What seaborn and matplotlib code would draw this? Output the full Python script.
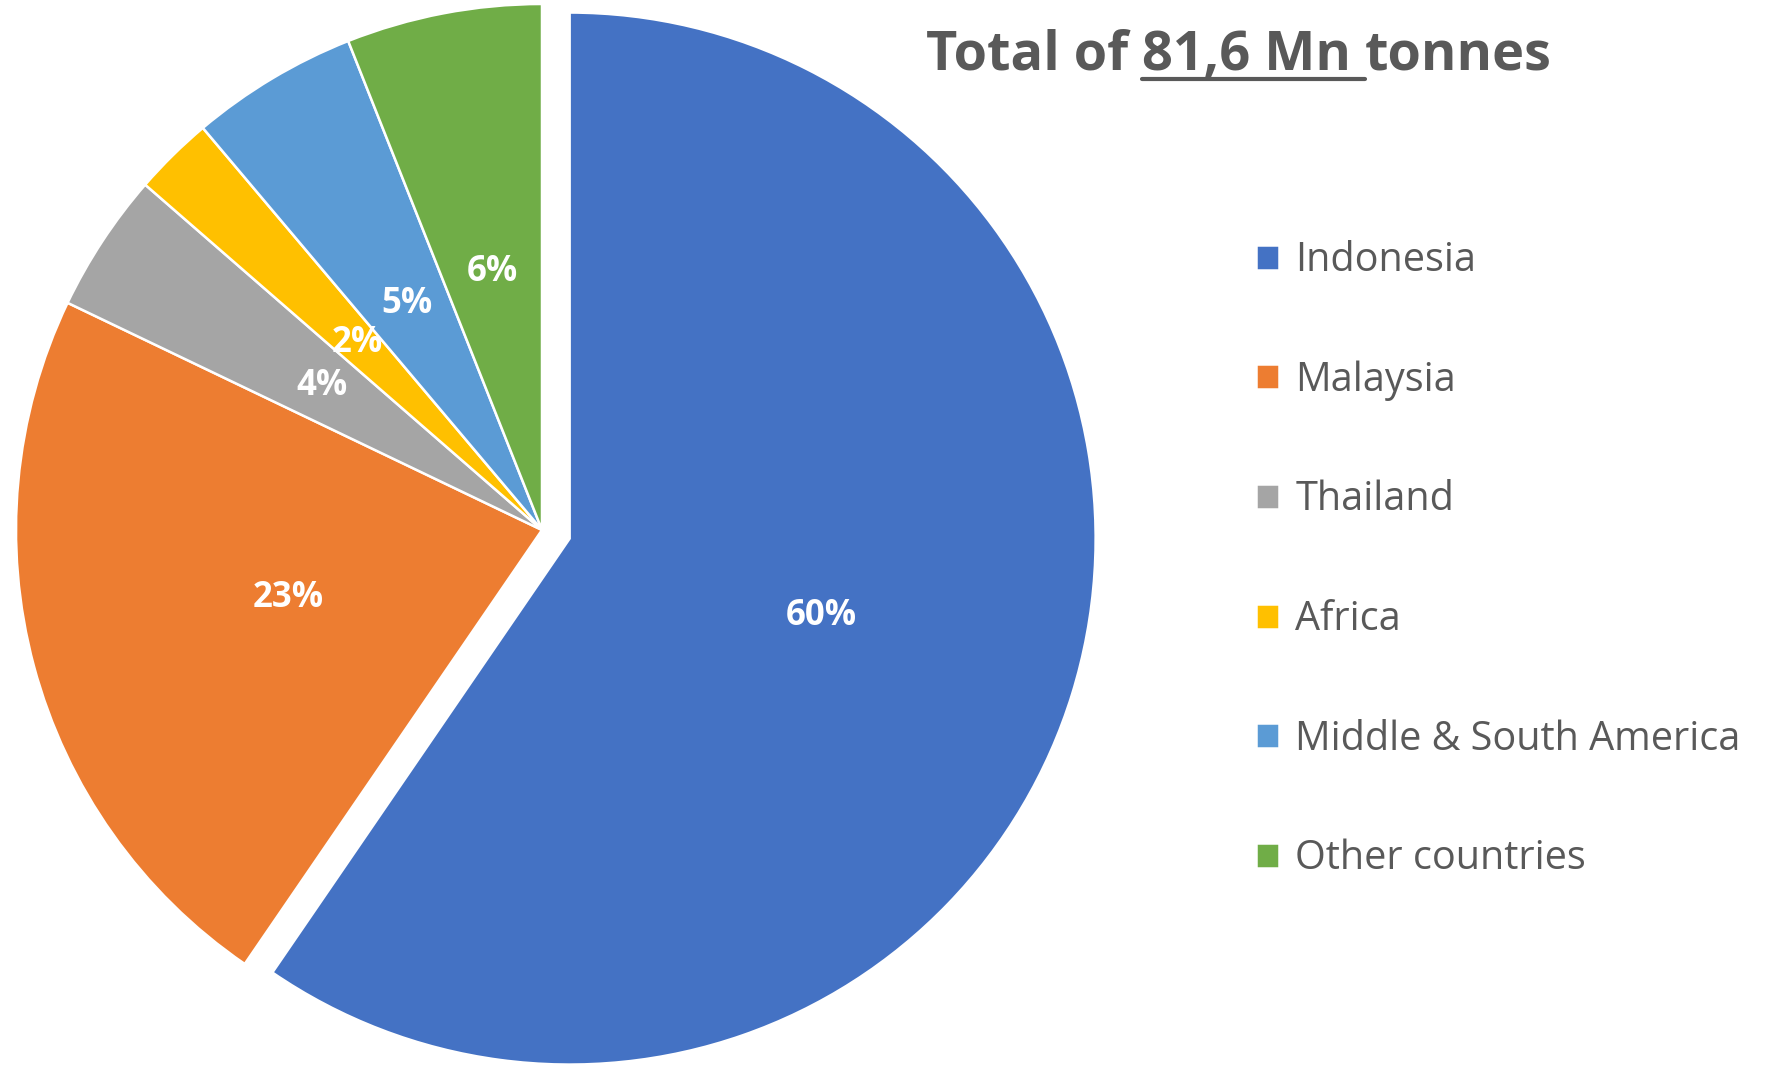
import matplotlib
matplotlib.use("Agg")
import matplotlib.pyplot as plt
import seaborn as sns
from matplotlib.lines import Line2D

# production in Mn tonnes (total 81.6)
regions = ['Indonesia', 'Malaysia', 'Thailand', 'Africa',
           'Middle & South America', 'Other countries']
production = [48.6, 18.4, 3.5, 2.0, 4.2, 4.9]
colors = ['#4472C4', '#ED7D31', '#A5A5A5', '#FFC000', '#5B9BD5', '#70AD47']
explode = [0.055, 0, 0, 0, 0, 0]

sns.set_theme(style="white")
plt.rcParams['font.family'] = ['Open Sans', 'DejaVu Sans']
grey = '#595959'

W, H = 1781, 1068
fig = plt.figure(figsize=(W / 100, H / 100), dpi=100)
ax = fig.add_axes([0, 0, 1, 1])

wedges, texts, autotexts = ax.pie(
    production, colors=sns.color_palette(colors), explode=explode,
    startangle=90, counterclock=False, autopct='%.0f%%', pctdistance=0.5,
    wedgeprops=dict(edgecolor='white', linewidth=1.8),
    textprops=dict(color='white', fontsize=25, fontweight='bold'))

# place the pie: centre at (542, 530) px, radius 526 px
r = 526
cx, cy = 542, 530
ax.set_xlim(-cx / r, (W - cx) / r)
ax.set_ylim(-(H - cy) / r, cy / r)
ax.set_aspect('equal', adjustable='box')
ax.axis('off')

# legend on the right
leg = fig.legend(wedges, regions, loc='upper left',
                 bbox_to_anchor=(1220 / W, 1 - 205 / H),
                 frameon=False, fontsize=28.5, handlelength=0.6, handleheight=0.6,
                 handletextpad=0.4, labelspacing=2.0, labelcolor=grey)

# title with the underlined middle part
base_y = 1 - 70 / H
tkw = dict(fontsize=39, fontweight='bold', color=grey, va='baseline', ha='left')
parts = ['Total of ', '81,6 Mn ', 'tonnes']
x = 926 / W
fig.canvas.draw()
renderer = fig.canvas.get_renderer()
drawn = []
for p in parts:
    t = fig.text(x, base_y, p, **tkw)
    bb = t.get_window_extent(renderer)
    drawn.append(bb)
    x = bb.x1 / W

ub = drawn[1]
uy = base_y - 9 / H
fig.lines.append(Line2D([ub.x0 / W, ub.x1 / W], [uy, uy], transform=fig.transFigure,
                        color=grey, linewidth=3))

fig.savefig('out.png', dpi=100)
